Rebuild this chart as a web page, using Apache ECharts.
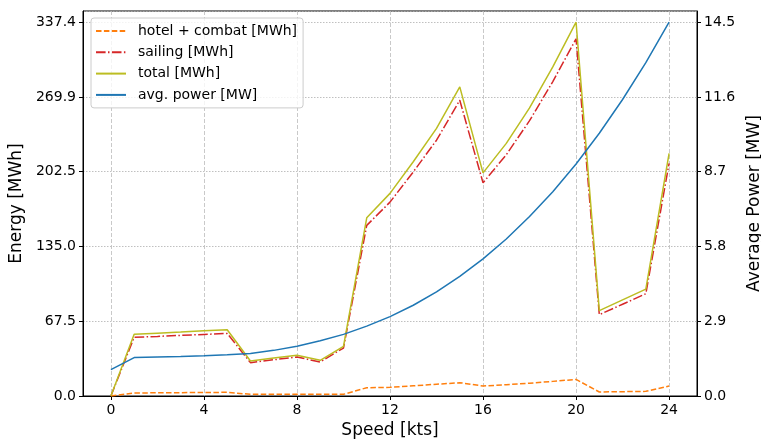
<!DOCTYPE html>
<html>
<head>
<meta charset="utf-8">
<script src="https://cdn.jsdelivr.net/npm/echarts@6/dist/echarts.min.js"></script>
<style>html,body{margin:0;padding:0;background:#fff}#c{width:761px;height:439px}</style>
</head>
<body>
<div id="c"></div>
<script>
const speeds = [0,1,2,3,4,5,6,7,8,9,10,11,12,13,14,15,16,17,18,19,20,21,22,23,24];
const hotelCombat = [0,2.7,2.9,3.0,3.2,3.3,1.5,1.5,1.5,1.5,1.5,7.5,7.8,9.2,10.6,12.0,9.0,10.2,11.5,13.2,15.0,3.6,3.9,4.2,9.0];
const sailing = [0,53.0,53.8,54.7,55.6,56.5,30.1,32.7,35.2,30.7,43.3,154.0,175.0,202.2,230.9,267.0,192.4,217.8,248.5,283.8,322.4,73.4,82.8,92.3,210.0];
const total = [0,55.7,56.7,57.7,58.8,59.8,31.6,34.2,36.7,32.2,44.8,160.8,182.9,211.4,241.5,279.0,201.4,228.0,260.0,297.0,337.4,77.0,86.7,96.5,219.0];
const avgPower = [1.02,1.49,1.51,1.53,1.56,1.60,1.65,1.77,1.93,2.14,2.39,2.71,3.08,3.52,4.04,4.64,5.32,6.09,6.96,7.92,9.0,10.19,11.50,12.93,14.5];
const xTicks = [0,4,8,12,16,20,24];
const leftTickLabels = ['0.0','67.5','135.0','202.5','269.9','337.4'];
const rightTickLabels = ['0.0','2.9','5.8','8.7','11.6','14.5'];

const pair = (ys) => speeds.map((x,i)=>[x, ys[i]]);
const F = 'DejaVu Sans';
const leftInterval = 67.485, rightInterval = 2.9;
const chart = echarts.init(document.getElementById('c'), null, {renderer:'canvas'});
chart.setOption({
  animation:false,
  backgroundColor:'#fff',
  textStyle:{fontFamily:F},
  grid:{left:83, right:64, top:11, bottom:43, show:true, borderColor:'#000', borderWidth:1, containLabel:false, outerBoundsMode:'none'},
  legend:{
    left:91, top:18, orient:'vertical',
    padding:[6,6,6,4], itemGap:7.3, itemWidth:30, itemHeight:14,
    backgroundColor:'rgba(255,255,255,0.8)', borderColor:'#cccccc', borderWidth:1, borderRadius:3,
    itemStyle:{opacity:0},
    textStyle:{fontFamily:F, fontSize:14, color:'#000', padding:[0,0,0,7]},
    data:['hotel + combat [MWh]','sailing [MWh]','total [MWh]','avg. power [MW]']
  },
  xAxis:{
    type:'value', min:-1.2, max:25.2,
    name:'Speed [kts]', nameLocation:'middle', nameGap:22,
    nameTextStyle:{fontFamily:F, fontSize:17, color:'#000'},
    axisLine:{show:true, onZero:false, lineStyle:{color:'#000', width:1}},
    axisTick:{show:true, inside:false, length:4, customValues:xTicks, lineStyle:{color:'#000'}},
    axisLabel:{customValues:xTicks, fontFamily:F, fontSize:14, color:'#000', margin:7},
    splitLine:{show:true, lineStyle:{color:'#bbbbbb', type:[4,2], width:0.8}}
  },
  yAxis:[{
    type:'value', min:0, max:347.5, interval:leftInterval,
    name:'Energy [MWh]', nameLocation:'middle', nameGap:46,
    nameTextStyle:{fontFamily:F, fontSize:17, color:'#000'},
    axisLine:{show:true, onZero:false, lineStyle:{color:'#000', width:1}},
    axisTick:{show:true, length:4, lineStyle:{color:'#000'}},
    axisLabel:{fontFamily:F, fontSize:14, color:'#000', margin:7,
      formatter:(v)=>{const i=Math.round(v/leftInterval); return leftTickLabels[i]!==undefined?leftTickLabels[i]:'';}},
    splitLine:{show:true, lineStyle:{color:'#b0b0b0', type:[1.5,1.5], width:0.8}}
  },{
    type:'value', min:0, max:14.933, interval:rightInterval, position:'right',
    name:'Average Power [MW]', nameLocation:'middle', nameGap:32,
    nameTextStyle:{fontFamily:F, fontSize:17, color:'#000'},
    axisLine:{show:true, onZero:false, lineStyle:{color:'#000', width:1}},
    axisTick:{show:true, length:4, lineStyle:{color:'#000'}},
    axisLabel:{fontFamily:F, fontSize:14, color:'#000', margin:7,
      formatter:(v)=>{const i=Math.round(v/rightInterval); return rightTickLabels[i]!==undefined?rightTickLabels[i]:'';}},
    splitLine:{show:false}
  }],
  series:[
    {name:'hotel + combat [MWh]', type:'line', yAxisIndex:0, data:pair(hotelCombat), symbol:'none',
      itemStyle:{color:'#ff7f0e'}, lineStyle:{color:'#ff7f0e', width:1.5, type:[5.5,2.4]}},
    {name:'sailing [MWh]', type:'line', yAxisIndex:0, data:pair(sailing), symbol:'none',
      itemStyle:{color:'#d62728'}, lineStyle:{color:'#d62728', width:1.5, type:[9.6,2.4,1.5,2.4]}},
    {name:'total [MWh]', type:'line', yAxisIndex:0, data:pair(total), symbol:'none',
      itemStyle:{color:'#bcbd22'}, lineStyle:{color:'#bcbd22', width:1.5}},
    {name:'avg. power [MW]', type:'line', yAxisIndex:1, data:pair(avgPower), symbol:'none',
      itemStyle:{color:'#1f77b4'}, lineStyle:{color:'#1f77b4', width:1.5}}
  ]
});
</script>
</body>
</html>
